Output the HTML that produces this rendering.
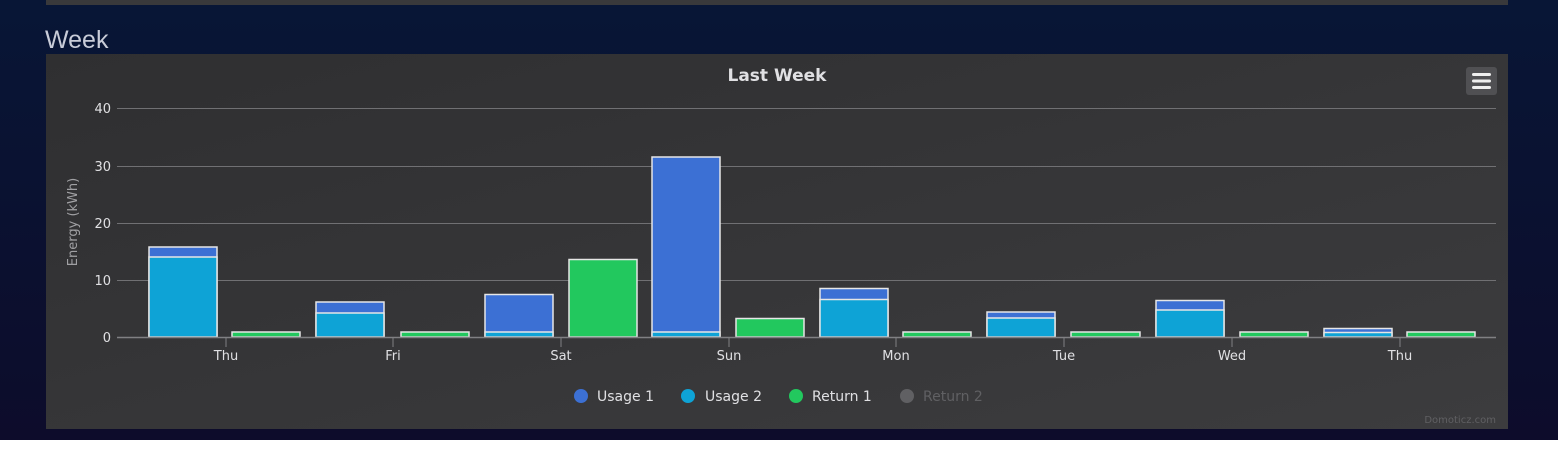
<!DOCTYPE html>
<html><head><meta charset="utf-8"><style>
html,body{margin:0;padding:0;width:1558px;height:454px;overflow:hidden;background:#fff}
</style></head><body>
<svg width="1558" height="454" xmlns="http://www.w3.org/2000/svg" font-family="'DejaVu Sans', 'Liberation Sans', sans-serif">
<defs>
<linearGradient id="bg" x1="0" y1="0" x2="0" y2="1"><stop offset="0" stop-color="#081636"/><stop offset="1" stop-color="#0d0c2b"/></linearGradient>
<linearGradient id="pn" x1="0" y1="0" x2="1" y2="1"><stop offset="0" stop-color="#2f2f31"/><stop offset="1" stop-color="#3c3c3e"/></linearGradient>
</defs>
<rect x="0" y="0" width="1558" height="440" fill="url(#bg)"/>
<rect x="46" y="0" width="1462" height="5" fill="#39393b"/>
<text x="45" y="48" font-size="25" fill="#c8ccd8" font-family="'Liberation Sans', sans-serif">Week</text>
<rect x="46" y="54" width="1462" height="375" fill="url(#pn)"/>
<text x="777" y="81" font-size="17" font-weight="bold" fill="#e0e0e3" text-anchor="middle">Last Week</text>
<rect x="1466" y="67" width="31" height="28" rx="3" fill="#505053"/>
<rect x="1472" y="73" width="19" height="3" rx="1.5" fill="#eee"/>
<rect x="1472" y="79.5" width="19" height="3" rx="1.5" fill="#eee"/>
<rect x="1472" y="86" width="19" height="3" rx="1.5" fill="#eee"/>
<g stroke="#707073" stroke-width="1">
<line x1="117" y1="108.5" x2="1496" y2="108.5"/>
<line x1="117" y1="166.5" x2="1496" y2="166.5"/>
<line x1="117" y1="223.5" x2="1496" y2="223.5"/>
<line x1="117" y1="280.5" x2="1496" y2="280.5"/>
</g>
<g font-size="13" fill="#e0e0e3" text-anchor="end">
<text x="111" y="113">40</text><text x="111" y="171">30</text><text x="111" y="228">20</text><text x="111" y="285">10</text><text x="111" y="342">0</text>
</g>
<text transform="translate(77,222) rotate(-90)" font-size="13" fill="#a0a0a3" text-anchor="middle">Energy (kWh)</text>
<g stroke="#e6e6e6" stroke-width="1.5">
<rect x="149" y="247" width="68" height="90" fill="#3c70d4"/><rect x="149" y="257" width="68" height="80" fill="#0ea3d6"/>
<rect x="232" y="332" width="68" height="5" fill="#22c85e"/>
<rect x="316" y="302" width="68" height="35" fill="#3c70d4"/><rect x="316" y="313" width="68" height="24" fill="#0ea3d6"/>
<rect x="401" y="332" width="68" height="5" fill="#22c85e"/>
<rect x="485" y="294.5" width="68" height="42.5" fill="#3c70d4"/><rect x="485" y="332" width="68" height="5" fill="#0ea3d6"/>
<rect x="569" y="259.5" width="68" height="77.5" fill="#22c85e"/>
<rect x="652" y="157" width="68" height="180" fill="#3c70d4"/><rect x="652" y="332" width="68" height="5" fill="#0ea3d6"/>
<rect x="736" y="318.5" width="68" height="18.5" fill="#22c85e"/>
<rect x="820" y="288.5" width="68" height="48.5" fill="#3c70d4"/><rect x="820" y="299.5" width="68" height="37.5" fill="#0ea3d6"/>
<rect x="903" y="332" width="68" height="5" fill="#22c85e"/>
<rect x="987" y="312" width="68" height="25" fill="#3c70d4"/><rect x="987" y="318" width="68" height="19" fill="#0ea3d6"/>
<rect x="1071" y="332" width="69" height="5" fill="#22c85e"/>
<rect x="1156" y="300.5" width="68" height="36.5" fill="#3c70d4"/><rect x="1156" y="310" width="68" height="27" fill="#0ea3d6"/>
<rect x="1240" y="332" width="68" height="5" fill="#22c85e"/>
<rect x="1324" y="328.5" width="68" height="8.5" fill="#3c70d4"/><rect x="1324" y="332.5" width="68" height="4.5" fill="#0ea3d6"/>
<rect x="1407" y="332" width="68" height="5" fill="#22c85e"/>
</g>
<line x1="117" y1="337.5" x2="1496" y2="337.5" stroke="#808083" stroke-width="1.5"/>
<g stroke="#808083" stroke-width="1">
<line x1="226" y1="338" x2="226" y2="347"/><line x1="393" y1="338" x2="393" y2="347"/><line x1="561" y1="338" x2="561" y2="347"/><line x1="729" y1="338" x2="729" y2="347"/><line x1="896" y1="338" x2="896" y2="347"/><line x1="1064" y1="338" x2="1064" y2="347"/><line x1="1232" y1="338" x2="1232" y2="347"/><line x1="1400" y1="338" x2="1400" y2="347"/>
</g>
<g font-size="13" fill="#e0e0e3" text-anchor="middle">
<text x="226" y="360">Thu</text><text x="393" y="360">Fri</text><text x="561" y="360">Sat</text><text x="729" y="360">Sun</text><text x="896" y="360">Mon</text><text x="1064" y="360">Tue</text><text x="1232" y="360">Wed</text><text x="1400" y="360">Thu</text>
</g>
<g font-size="14">
<circle cx="581" cy="396" r="7" fill="#3c70d4"/><text x="597" y="401" fill="#e0e0e3">Usage 1</text>
<circle cx="688" cy="396" r="7" fill="#0ea3d6"/><text x="705" y="401" fill="#e0e0e3">Usage 2</text>
<circle cx="796" cy="396" r="7" fill="#22c85e"/><text x="812" y="401" fill="#e0e0e3">Return 1</text>
<circle cx="907" cy="396" r="7" fill="#606063"/><text x="923" y="401" fill="#606063">Return 2</text>
</g>
<text x="1496" y="423" font-size="10" fill="#606063" text-anchor="end">Domoticz.com</text>
</svg>
</body></html>
